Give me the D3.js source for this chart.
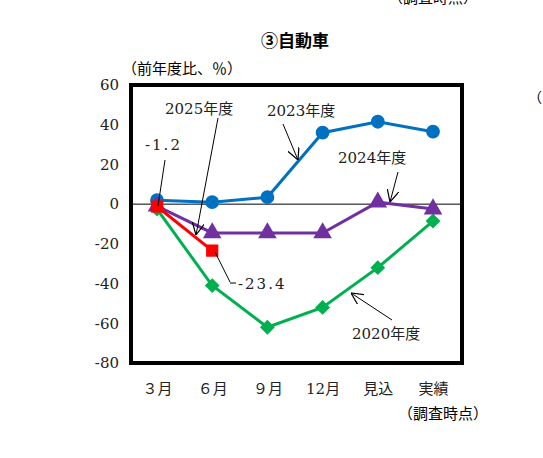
<!DOCTYPE html>
<html><head><meta charset="utf-8">
<script src="https://cdn.jsdelivr.net/npm/d3@7"></script>
<style>body{margin:0;background:#fff}text{font-family:"DejaVu Serif","Liberation Serif","Noto Sans CJK JP",serif}</style>
</head><body><svg id="c" width="543" height="458"></svg>
<script>
const categories = ["３月", "６月", "９月", "12月", "見込", "実績"];
const yTicks = [60, 40, 20, 0, -20, -40, -60, -80];
const fy2023 = [2, 1, 3.5, 36, 41.5, 36.5];
const fy2024 = [-1, -14.5, -14.5, -14.5, 1, -2.5];
const fy2020 = [-2.5, -41, -62, -52, -32, -8.5];
const fy2025 = [-1.2, -23.4];

const svg = d3.select("#c");
const L = 131, R = 462, T = 85, B = 363;
const x = d3.scalePoint().domain(categories).range([157, 433]);
const y = d3.scaleLinear().domain([-80, 60]).range([B, T]);
const px = i => x(categories[i]);

svg.append("text").attr("x", 388).attr("y", 3).attr("font-size", 15).text("（調査時点）");
svg.append("text").attr("x", 528).attr("y", 102).attr("font-size", 14).text("（");
svg.append("text").attr("x", 295).attr("y", 47).attr("text-anchor", "middle")
  .attr("font-size", 17).attr("font-weight", "bold").attr("font-family", "Noto Sans CJK JP").text("③自動車");
svg.append("text").attr("x", 122).attr("y", 74).attr("font-size", 15).text("（前年度比、％）");

svg.append("g").attr("transform", `translate(${L},0)`)
  .call(d3.axisLeft(y).tickValues(yTicks).tickSize(0).tickPadding(12).tickFormat(d => d))
  .call(g => g.select(".domain").remove())
  .selectAll("text").attr("font-size", 15).attr("fill", "#222");
svg.append("g").attr("transform", `translate(0,${B})`)
  .call(d3.axisBottom(x).tickSize(0).tickPadding(20))
  .call(g => g.select(".domain").remove())
  .selectAll("text").attr("font-size", 15).attr("fill", "#222");
svg.append("text").attr("x", 488).attr("y", 419).attr("text-anchor", "end").attr("font-size", 15).text("（調査時点）");

svg.append("line").attr("x1", L).attr("x2", R).attr("y1", y(0)).attr("y2", y(0)).attr("stroke", "#000");

const line = d3.line().x((d, i) => px(i)).y(d => y(d));
function series(data, color, shape, size, rot) {
  svg.append("path").datum(data).attr("d", line).attr("fill", "none").attr("stroke", color).attr("stroke-width", 3);
  svg.selectAll(null).data(data).enter().append("path")
    .attr("transform", (d, i) => `translate(${px(i)},${y(d)}) rotate(${rot || 0})`)
    .attr("d", d3.symbol().type(shape).size(size)).attr("fill", color);
}
series(fy2023, "#0070c0", d3.symbolCircle, 150);
series(fy2020, "#00b050", d3.symbolSquare, 110, 45);
series(fy2024, "#7030a0", d3.symbolTriangle, 150);
series(fy2025, "#ff0000", d3.symbolSquare, 150);

const ann = [
  {t: "2025年度", tx: 165, ty: 114, x1: 218, y1: 118, x2: 196, y2: 235},
  {t: "2023年度", tx: 267, ty: 116, x1: 283, y1: 124, x2: 298, y2: 160},
  {t: "2024年度", tx: 338, ty: 163, x1: 398, y1: 172, x2: 390, y2: 202},
  {t: "2020年度", tx: 352, ty: 339, x1: 392, y1: 320, x2: 351, y2: 293},
  {t: "-1.2", tx: 145, ty: 150, x1: 165, y1: 160, x2: 158, y2: 206},
  {t: "-23.4", tx: 238, ty: 289, x1: 230, y1: 282, x2: 215, y2: 252}
];
const defs = svg.append("defs");
defs.append("marker").attr("id", "ah").attr("viewBox", "0 0 10 10").attr("refX", 10).attr("refY", 5)
  .attr("markerWidth", 12).attr("markerHeight", 12).attr("orient", "auto").attr("markerUnits", "userSpaceOnUse")
  .append("path").attr("d", "M0,0L10,5L0,10").attr("fill", "none").attr("stroke", "#000");
ann.forEach(a => {
  svg.append("text").attr("x", a.tx).attr("y", a.ty).attr("font-size", 15).attr("fill", "#222")
    .attr("letter-spacing", a.t.includes("年度") ? 0 : 2).text(a.t);
  const ln = svg.append("line").attr("x1", a.x1).attr("y1", a.y1).attr("x2", a.x2).attr("y2", a.y2)
    .attr("stroke", "#000").attr("stroke-width", 1);
  if (a.t.includes("年度")) ln.attr("marker-end", "url(#ah)");
});
svg.append("line").attr("x1", 230).attr("x2", 236).attr("y1", 283).attr("y2", 283).attr("stroke", "#000");

svg.append("rect").attr("x", L).attr("y", T).attr("width", R - L).attr("height", B - T)
  .attr("fill", "none").attr("stroke", "#000").attr("stroke-width", 4);
</script></body></html>
